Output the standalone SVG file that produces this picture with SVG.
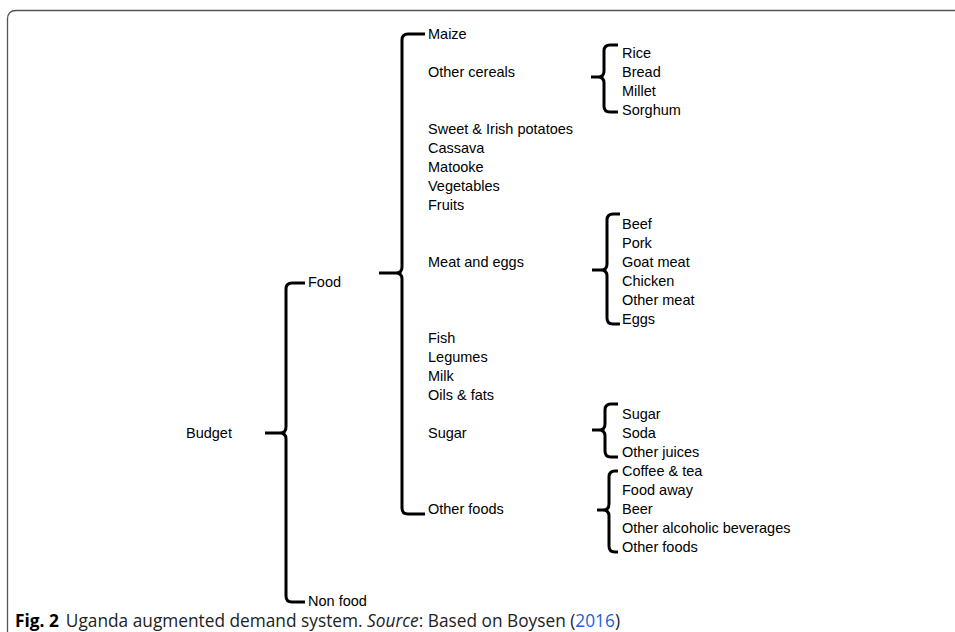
<svg xmlns="http://www.w3.org/2000/svg" width="955" height="632" viewBox="0 0 955 632">
<style>
.t{font-family:"Liberation Sans",Arial,sans-serif;font-size:14.5px;fill:#000}
.b{fill:none;stroke:#000;stroke-width:3;stroke-linecap:butt;stroke-linejoin:round}
.cap{font-family:"Open Sans","Noto Sans",sans-serif;font-size:17.3px;fill:#222}
</style>
<rect width="955" height="632" fill="#fff"/>
<path d="M7.5,650 V19 Q7.5,10.5 16,10.5 H970" fill="none" stroke="#555" stroke-width="1.3"/>
<g id="connectors">
<path class="b" d="M305,283 H292 Q286,283 286,289 V427 Q286,433 280,433 H265 M280,433 Q286,433 286,439 V596 Q286,602 292,602 H305"/>
<path class="b" d="M425,34 H408 Q402,34 402,40 V267 Q402,273 396,273 H379 M396,273 Q402,273 402,279 V508 Q402,514 408,514 H425"/>
<path class="b" d="M618,45 H610 Q604,45 604,51 V71 Q604,77 598,77 H591 M598,77 Q604,77 604,83 V106 Q604,112 610,112 H618"/>
<path class="b" d="M620,214 H613 Q607,214 607,220 V264 Q607,270 601,270 H592 M601,270 Q607,270 607,276 V318 Q607,324 613,324 H620"/>
<path class="b" d="M618,404 H611 Q605,404 605,410 V424 Q605,430 599,430 H592 M599,430 Q605,430 605,436 V451 Q605,457 611,457 H618"/>
<path class="b" d="M618,471 H615 Q609,471 609,477 V504 Q609,510 603,510 H597 M603,510 Q609,510 609,516 V546 Q609,552 615,552 H618"/>
</g>
<g id="budget"><text class="t" x="186" y="438">Budget</text></g>
<g id="food"><text class="t" x="308" y="287">Food</text></g>
<g id="nonfood"><text class="t" x="308" y="606">Non food</text></g>
<g id="food-items">
<text class="t" x="428" y="39">Maize</text>
<text class="t" x="428" y="77">Other cereals</text>
<text class="t" x="428" y="134">Sweet &amp; Irish potatoes</text>
<text class="t" x="428" y="153">Cassava</text>
<text class="t" x="428" y="172">Matooke</text>
<text class="t" x="428" y="191">Vegetables</text>
<text class="t" x="428" y="210">Fruits</text>
<text class="t" x="428" y="267">Meat and eggs</text>
<text class="t" x="428" y="343">Fish</text>
<text class="t" x="428" y="362">Legumes</text>
<text class="t" x="428" y="381">Milk</text>
<text class="t" x="428" y="400">Oils &amp; fats</text>
<text class="t" x="428" y="438">Sugar</text>
<text class="t" x="428" y="514">Other foods</text>
</g>
<g id="cereals">
<text class="t" x="622" y="58">Rice</text>
<text class="t" x="622" y="77">Bread</text>
<text class="t" x="622" y="96">Millet</text>
<text class="t" x="622" y="115">Sorghum</text>
</g>
<g id="meat">
<text class="t" x="622" y="229">Beef</text>
<text class="t" x="622" y="248">Pork</text>
<text class="t" x="622" y="267">Goat meat</text>
<text class="t" x="622" y="286">Chicken</text>
<text class="t" x="622" y="305">Other meat</text>
<text class="t" x="622" y="324">Eggs</text>
</g>
<g id="sugar">
<text class="t" x="622" y="419">Sugar</text>
<text class="t" x="622" y="438">Soda</text>
<text class="t" x="622" y="457">Other juices</text>
</g>
<g id="other">
<text class="t" x="622" y="476">Coffee &amp; tea</text>
<text class="t" x="622" y="495">Food away</text>
<text class="t" x="622" y="514">Beer</text>
<text class="t" x="622" y="533">Other alcoholic beverages</text>
<text class="t" x="622" y="552">Other foods</text>
</g>
<g id="caption"><text class="cap" x="15" y="627"><tspan font-weight="bold" fill="#000">Fig. 2</tspan><tspan dx="7">Uganda augmented demand system. </tspan><tspan font-style="italic">Source</tspan><tspan>: Based on Boysen (</tspan><tspan fill="#1a5fd8">2016</tspan><tspan>)</tspan></text></g>
</svg>
